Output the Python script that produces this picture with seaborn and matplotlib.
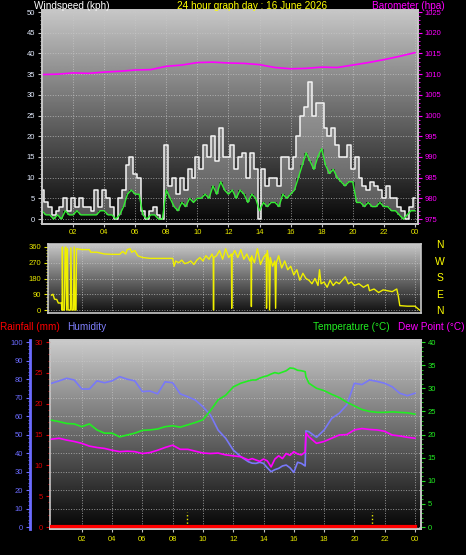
import numpy as np
import matplotlib
matplotlib.use('Agg')
import matplotlib.pyplot as plt
import seaborn as sns
from matplotlib.ticker import MultipleLocator

# ── Data ──────────────────────────────────────────────────
# windspeed, sampled every 15 minutes (kph)
wind_hours = np.arange(0, 24.01, 0.25)
wind_gust = [7, 4, 3, 1, 2, 3, 5, 2, 5, 3, 5, 3, 3, 2, 7, 3,
             7, 5, 3, 0, 5, 7, 13, 15, 11, 10, 2, 0, 2, 3, 1, 0,
             18, 8, 10, 6, 10, 7, 12, 10, 15, 12, 18, 15, 20, 14, 22, 15,
             15, 18, 12, 15, 16, 10, 16, 12, 0, 12, 8, 10, 10, 8, 15, 15,
             12, 15, 20, 25, 27, 33, 25, 28, 28, 22, 20, 22, 18, 15, 15, 18,
             12, 15, 10, 8, 7, 9, 8, 7, 5, 8, 5, 5, 3, 2, 0, 3, 5]
wind_avg = [2, 1, 1, 0, 1, 0, 2, 1, 1, 2, 1, 1, 1, 1, 1, 2,
            2, 1, 1, 0, 1, 3, 6, 7, 6, 6, 1, 0, 1, 1, 0, 0,
            7, 5, 3, 2, 4, 3, 5, 4, 5, 5, 6, 5, 8, 6, 9, 7,
            6, 7, 5, 7, 6, 4, 6, 5, 2, 4, 3, 4, 4, 3, 6, 5,
            6, 7, 10, 13, 16, 14, 12, 15, 17, 13, 11, 12, 10, 9, 8, 9,
            9, 4, 4, 3, 4, 3, 3, 4, 3, 3, 2, 2, 1, 0, 1, 2, 2]

# barometer, hourly (hPa)
baro_hours = np.arange(0, 25)
baro_hpa = [1009.9, 1010.0, 1010.3, 1010.2, 1010.5, 1010.7, 1011.0, 1011.1,
            1011.9, 1012.2, 1012.8, 1012.9, 1012.7, 1012.6, 1012.3, 1011.6,
            1011.3, 1011.4, 1011.7, 1011.6, 1012.2, 1012.8, 1013.5, 1014.3, 1015.2]

# wind direction (degrees)
dir_hours = [0.0, 0.1, 0.2, 0.35, 0.45, 0.65, 0.7, 0.72, 0.75, 0.85, 0.9, 0.95,
             1.0, 1.05, 1.1, 1.25, 1.28, 1.35, 1.45, 1.5, 1.55, 1.62, 1.65,
             2.0, 2.5, 2.6, 3.0, 3.5, 4.0, 4.5, 4.7, 4.9, 5.0, 5.2, 5.3, 5.5,
             5.7, 6.0, 6.5, 7.0, 7.5, 8.0, 8.1, 8.2, 8.4, 8.6, 8.8, 9.0, 9.2,
             9.4, 9.6, 9.8, 10.0, 10.2, 10.4, 10.6, 10.68, 10.7, 10.72, 10.9,
             11.1, 11.3, 11.5, 11.7, 11.88, 11.9, 11.92, 12.1, 12.3, 12.5,
             12.7, 12.9, 13.1, 13.18, 13.2, 13.22, 13.4, 13.6, 13.8, 14.0,
             14.18, 14.2, 14.25, 14.35, 14.4, 14.45, 14.6, 14.75, 14.8, 14.85,
             15.0, 15.2, 15.4, 15.6, 15.8, 16.0, 16.2, 16.4, 16.6, 16.8, 17.0,
             17.2, 17.4, 17.6, 17.7, 17.8, 18.0, 18.2, 18.4, 18.6, 18.8, 19.0,
             19.2, 19.4, 19.6, 19.8, 20.0, 20.3, 20.6, 20.9, 21.0, 21.3, 21.6,
             21.9, 22.2, 22.5, 22.8, 22.9, 23.0, 23.5, 24.0, 24.3]
dir_deg = [85, 90, 62, 60, 40, 40, 0, 360, 0, 0, 355, 360,
           0, 350, 0, 0, 355, 0, 0, 360, 0, 0, 350,
           345, 345, 330, 330, 320, 318, 318, 335, 320, 345, 350, 330, 340,
           310, 300, 295, 295, 295, 295, 250, 280, 270, 285, 265, 270, 280,
           260, 285, 300, 280, 310, 290, 320, 300, 0, 300, 310,
           340, 290, 350, 300, 320, 10, 310, 340, 300, 345,
           290, 320, 280, 300, 20, 310, 270, 350, 260, 300,
           320, 10, 340, 280, 0, 300, 250, 280, 10, 270,
           310, 240, 280, 230, 250, 200, 230, 170, 210, 180, 170,
           150, 180, 140, 230, 150, 160, 130, 170, 140, 160, 150,
           170, 190, 150, 160, 140, 150, 130, 145, 110, 120, 100,
           115, 110, 105, 120, 80, 25, 22, 22, 0]

# temperature / humidity / dew point
th_hours = [0, 0.5, 1, 1.5, 2, 2.5, 3, 3.5, 4, 4.5, 5, 5.5, 6, 6.5, 7, 7.5,
            8, 8.5, 9, 9.5, 10, 10.5, 11, 11.5, 12, 12.5, 13, 13.25, 13.5,
            13.75, 14, 14.25, 14.5, 14.75, 15, 15.25, 15.5, 15.75, 16, 16.25,
            16.5, 16.75, 16.8, 17, 17.5, 18, 18.5, 19, 19.5, 20, 20.5, 21,
            21.5, 22, 22.5, 23, 23.5, 24]
humidity = [77.7, 79, 80.4, 79.5, 74.6, 74.6, 79, 78, 79, 81.3, 79.9, 79,
            73.2, 73.5, 72, 78.5, 78, 72, 70.4, 68.6, 65, 60.5, 52.4, 48,
            41.6, 38, 35.3, 34.5, 34.4, 35, 34.4, 32, 29.9, 31, 31.7, 33,
            33.5, 32, 29.5, 35, 34.4, 33, 52, 51.5, 48.5, 52.4, 58.7, 61.5,
            66, 77.7, 77, 79.5, 78.7, 77.7, 75.8, 72.3, 71, 72.3]
temperature = [23.1, 22.8, 22.4, 22.3, 21.7, 22.3, 21, 20.3, 20.3, 19.5, 19.9,
               20.3, 20.9, 21, 21.2, 21.7, 21.9, 21.6, 22.1, 22.6, 23.2, 25.2,
               27.5, 28.5, 30.3, 31.1, 31.6, 31.8, 31.8, 32.2, 32.5, 32.7, 33.1,
               33.4, 33.2, 33.5, 33.8, 34.4, 34.3, 33.9, 33.8, 33.6, 32.5, 31.1,
               30, 29.5, 28.7, 28, 27, 26.2, 25.4, 25, 24.8, 24.8, 24.9, 24.8,
               24.7, 24.4]
dew_point = [19, 19.2, 18.8, 18.5, 18.1, 17.5, 17.2, 17, 16.6, 16.3, 16.4,
             16.3, 15.9, 16.1, 16.6, 17.2, 17.7, 16.8, 16.8, 16.4, 16, 15.9,
             16, 15.6, 15.4, 15.2, 14.5, 14.8, 14.5, 14.2, 14.7, 14.3, 13.0,
             14.7, 15.4, 14.8, 15.9, 15.5, 16.3, 15.8, 15.6, 16.2, 20.3, 19.5,
             18.1, 18.5, 19.2, 19.9, 20, 21, 21.3, 21.1, 21, 20.7, 19.9, 19.7,
             19.4, 19.2]

# rainfall, hourly (mm)
rain_hours = np.arange(0, 25)
rain_mm = [0, 0, 0, 0, 0, 0, 0, 0, 0, 0, 0, 0, 0, 0, 0, 0, 0, 0, 0, 0, 0, 0, 0, 0, 0]

marker_hours = [8.95, 21.15]

# ── Figure ────────────────────────────────────────────────
W, H = 466, 555
plt.rcParams['font.family'] = ['Liberation Sans', 'DejaVu Sans']
fig = plt.figure(figsize=(W / 100, H / 100), dpi=100, facecolor='black')


def box(l, t, r, b):
    return [l / W, 1 - b / H, (r - l) / W, (b - t) / H]


def backdrop(ax, top, bottom):
    grad = np.linspace(bottom, top, 256).reshape(-1, 1)
    ax.imshow(grad, extent=(0, 1, 0, 1), transform=ax.transAxes, origin='lower',
              cmap='gray', vmin=0, vmax=1, aspect='auto', zorder=0)


def frame(ax, color='#c8c8c8'):
    for s in ax.spines.values():
        s.set_color(color)
        s.set_linewidth(1.2)


grid_kw = dict(color='#c8c8c8', ls=':', lw=0.7, alpha=0.7)
even_hours = list(range(2, 25, 2))
hour_labels = [f'{h % 24:02d}' for h in even_hours]
TITLE = 7.2

# ── Top: windspeed + barometer ────────────────────────────
ax_w = fig.add_axes(box(42, 10, 418, 224))
backdrop(ax_w, 0.78, 0.02)
ax_w.fill_between(wind_hours, wind_avg, wind_gust, step='mid',
                  color='#e0e0e0', alpha=0.35, lw=0, zorder=2)
sns.lineplot(x=wind_hours, y=wind_gust, ax=ax_w, color='#f4f4f4', lw=1.1,
             drawstyle='steps-mid', zorder=3)
sns.lineplot(x=wind_hours, y=wind_avg, ax=ax_w, color='#33ee33', lw=1.0,
             zorder=4)
ax_w.set_xlim(0, 24.2)
ax_w.set_ylim(-1.2, 50.5)
ax_w.set_yticks(range(0, 51, 5))
ax_w.yaxis.set_minor_locator(MultipleLocator(1))
ax_w.set_xticks(even_hours)
ax_w.set_xticklabels(hour_labels)
ax_w.tick_params(axis='y', which='both', colors='#c0c0c0', labelcolor='#e4ecff',
                 labelsize=5.5, pad=2)
ax_w.tick_params(axis='y', which='major', length=3)
ax_w.tick_params(axis='y', which='minor', length=1.5)
ax_w.tick_params(axis='x', colors='#c0c0c0', labelcolor='#e8e800',
                 labelsize=5.5, length=2, pad=1.5)
ax_w.grid(True, **grid_kw)
ax_w.set_xlabel('')
ax_w.set_ylabel('')
frame(ax_w)

ax_p = ax_w.twinx()
sns.lineplot(x=baro_hours, y=baro_hpa, ax=ax_p, color='#ff00ff', lw=1.2)
ax_p.set_ylim(973.8, 1025.5)
ax_p.set_yticks(range(975, 1026, 5))
ax_p.yaxis.set_minor_locator(MultipleLocator(1))
ax_p.tick_params(axis='y', which='both', colors='#ff00ff', labelcolor='#ff00ff',
                 labelsize=5.5, pad=2)
ax_p.tick_params(axis='y', which='major', length=3)
ax_p.tick_params(axis='y', which='minor', length=1.5)
ax_p.set_ylabel('')
frame(ax_p)

fig.text(34 / W, 1 - 6 / H, 'Windspeed (kph)', color='white', fontsize=TITLE,
         va='center', ha='left')
fig.text(252 / W, 1 - 6 / H, '24 hour graph day : 16 June 2026', color='#ffff00',
         fontsize=TITLE, va='center', ha='center')
fig.text(372 / W, 1 - 6 / H, 'Barometer (hpa)', color='#ff00ff', fontsize=TITLE,
         va='center', ha='left')

# ── Middle: wind direction ────────────────────────────────
ax_d = fig.add_axes(box(48, 244, 421, 313))
backdrop(ax_d, 0.78, 0.06)
sns.lineplot(x=dir_hours, y=dir_deg, ax=ax_d, color='#f0f000', lw=1.0, zorder=3)
ax_d.set_xlim(-0.23, 24.4)
ax_d.set_ylim(-17, 377)
ax_d.set_yticks([0, 90, 180, 270, 360])
ax_d.yaxis.set_minor_locator(MultipleLocator(18))
ax_d.set_xticks(even_hours)
ax_d.set_xticklabels([])
ax_d.tick_params(axis='x', length=0)
ax_d.tick_params(axis='y', which='both', colors='#e8e800', labelcolor='#e8e800',
                 labelsize=5.5, pad=2)
ax_d.tick_params(axis='y', which='major', length=3)
ax_d.tick_params(axis='y', which='minor', length=1.5)
ax_d.grid(True, **grid_kw)
ax_d.set_xlabel('')
ax_d.set_ylabel('')
frame(ax_d)

for lab, y in zip(['N', 'W', 'S', 'E', 'N'], [245, 262, 278, 295, 311]):
    fig.text(440 / W, 1 - y / H, lab, color='#ffff00', fontsize=7.5,
             ha='center', va='center')

# ── Bottom: rain / humidity / temperature / dew point ────
ax_b = fig.add_axes(box(50, 340, 421, 529))
backdrop(ax_b, 0.80, 0.02)
ax_b.vlines(marker_hours, 0, 8.3, colors='#e8e800', linestyles=':', lw=1,
            zorder=3)
sns.lineplot(x=th_hours, y=humidity, ax=ax_b, color='#7878f8', lw=1.2, zorder=4)
ax_b.set_xlim(-0.1, 24.4)
ax_b.set_ylim(-1.08, 101.1)
ax_b.set_yticks(range(0, 101, 10))
ax_b.yaxis.set_minor_locator(MultipleLocator(2))
ax_b.set_xticks(even_hours)
ax_b.set_xticklabels(hour_labels)
ax_b.tick_params(axis='x', colors='#c0c0c0', labelcolor='#e8e800',
                 labelsize=5.5, length=2, pad=3)
ax_b.tick_params(axis='y', which='both', colors='#6b6bff', labelcolor='#6b6bff',
                 labelsize=5.5, pad=2)
ax_b.tick_params(axis='y', which='major', length=3)
ax_b.tick_params(axis='y', which='minor', length=1.5)
ax_b.grid(True, **grid_kw)
ax_b.set_xlabel('')
ax_b.set_ylabel('')
frame(ax_b)
ax_b.spines['left'].set_position(('outward', 14.4))
ax_b.spines['left'].set_color('#6b6bff')
ax_b.spines['left'].set_linewidth(2)

ax_r = ax_b.twinx()
ax_r.yaxis.tick_left()
sns.lineplot(x=rain_hours, y=rain_mm, ax=ax_r, color='#ff0000', lw=3, zorder=5)
ax_r.set_ylim(-0.32, 30.34)
ax_r.set_yticks(range(0, 31, 5))
ax_r.yaxis.set_minor_locator(MultipleLocator(1))
ax_r.tick_params(axis='y', which='both', colors='#e00000', labelcolor='#e00000',
                 labelsize=5.5, pad=2)
ax_r.tick_params(axis='y', which='major', length=3)
ax_r.tick_params(axis='y', which='minor', length=1.5)
ax_r.set_ylabel('')
frame(ax_r)
ax_r.spines['right'].set_visible(False)

ax_t = ax_b.twinx()
sns.lineplot(x=th_hours, y=temperature, ax=ax_t, color='#22ee22', lw=1.2)
sns.lineplot(x=th_hours, y=dew_point, ax=ax_t, color='#ff00ff', lw=1.2)
ax_t.set_ylim(-0.43, 40.45)
ax_t.set_yticks(range(0, 41, 5))
ax_t.yaxis.set_minor_locator(MultipleLocator(1))
ax_t.tick_params(axis='y', which='both', colors='#22dd22', labelcolor='#22ee22',
                 labelsize=5.5, pad=2)
ax_t.tick_params(axis='y', which='major', length=3)
ax_t.tick_params(axis='y', which='minor', length=1.5)
ax_t.set_ylabel('')
frame(ax_t)
ax_t.spines['left'].set_visible(False)

fig.text(0, 1 - 327 / H, 'Rainfall (mm)', color='#ff0000', fontsize=TITLE,
         va='center', ha='left')
fig.text(67 / W, 1 - 327 / H, 'Humidity', color='#8080ff', fontsize=TITLE,
         va='center', ha='left')
fig.text(313 / W, 1 - 327 / H, 'Temperature (°C)', color='#22ee22', fontsize=TITLE,
         va='center', ha='left')
fig.text(465 / W, 1 - 327 / H, 'Dew Point (°C)', color='#ff00ff', fontsize=TITLE,
         va='center', ha='right')

fig.savefig('out.png', dpi=100, facecolor='black')
